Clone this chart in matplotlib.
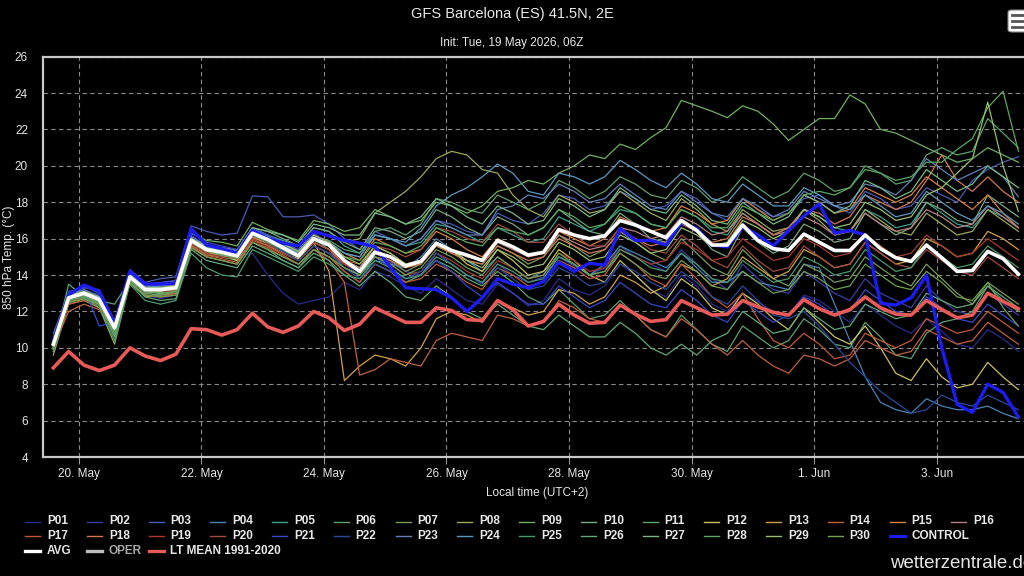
import numpy as np
import matplotlib
matplotlib.use("Agg")
from matplotlib import pyplot as plt
from matplotlib.lines import Line2D
from matplotlib.patches import FancyBboxPatch

plt.rcParams['font.family'] = ['Liberation Sans', 'DejaVu Sans']

# GFS ensemble, 850 hPa temperature, Barcelona. 6-hourly steps in local time (UTC+2),
# first step is 19 May 14:00 local (12Z)
START = np.datetime64("2026-05-19T14:00")
STEPS = 64
times = START + np.arange(STEPS) * np.timedelta64(6, "h")

avg = [10.2, 12.75, 13.0, 12.65, 11.1, 13.9, 13.2, 13.2, 13.3, 15.9, 15.4, 15.25, 15.05, 16.3, 15.95, 15.5,
       15.05, 16.0, 15.65, 14.8, 14.2, 15.25, 15.0, 14.5, 14.75, 15.75, 15.35, 15.1, 14.8, 15.9, 15.55, 15.1,
       15.25, 16.5, 16.2, 16.0, 16.15, 17.0, 16.75, 16.4, 16.05, 17.0, 16.45, 15.65, 15.65, 16.75, 15.9, 15.45,
       15.35, 16.25, 15.8, 15.35, 15.35, 16.2, 15.45, 14.95, 14.75, 15.65, 14.95, 14.2, 14.25, 15.3, 14.9, 14.05]

control = [10.3, 12.9, 13.45, 13.1, 11.3, 14.2, 13.5, 13.5, 13.55, 16.55, 15.65, 15.45, 15.2, 16.45, 16.0, 15.75,
           15.6, 16.4, 16.15, 15.9, 15.75, 15.55, 14.45, 13.3, 13.25, 13.2, 12.75, 12.0, 12.75, 13.8, 13.5, 13.3,
           13.65, 14.7, 14.2, 14.65, 14.55, 16.55, 15.9, 15.9, 15.65, 16.9, 16.55, 15.65, 15.55, 16.65, 16.2, 15.6,
           16.45, 17.25, 17.9, 16.3, 16.45, 16.2, 12.45, 12.35, 12.75, 14.0, 10.0, 6.9, 6.45, 8.0, 7.55, 6.2]

lt_mean = [8.9, 9.8, 9.05, 8.75, 9.05, 10.0, 9.55, 9.3, 9.65, 11.05, 11.0, 10.7, 11.0, 11.9, 11.15, 10.85,
           11.2, 12.0, 11.65, 10.95, 11.3, 12.2, 11.8, 11.4, 11.4, 12.2, 12.05, 11.55, 11.5, 12.6, 12.1, 11.2,
           11.45, 12.4, 11.8, 11.35, 11.4, 12.35, 11.85, 11.45, 11.55, 12.6, 12.2, 11.8, 11.85, 12.6, 12.25, 11.95,
           11.8, 12.65, 12.15, 11.8, 12.1, 12.8, 12.2, 11.85, 11.8, 12.6, 12.1, 11.65, 11.8, 13.0, 12.55, 12.15]

p01 = [10.5, 12.6, 12.7, 12.2, 10.6, 13.6, 12.9, 12.7, 12.9, 15.6, 15.4, 15.1, 15.0, 15.2, 14.0, 13.0,
       12.4, 12.6, 12.8, 13.6, 13.2, 14.2, 13.9, 13.4, 13.0, 13.8, 13.2, 12.6, 12.4, 13.5, 13.0, 12.3,
       12.6, 13.8, 13.2, 12.9, 13.4, 14.6, 14.0, 13.2, 12.8, 14.0, 13.4, 12.4, 12.0, 13.0, 12.5, 12.0,
       11.8, 12.9, 12.6, 12.0, 11.4, 12.4, 11.8, 11.2, 10.8, 11.6, 10.9, 10.2, 10.0, 11.0, 10.5, 9.8]
p02 = [10.0, 12.9, 13.2, 12.9, 10.9, 14.0, 13.0, 13.2, 13.5, 16.2, 15.6, 15.3, 15.2, 16.4, 15.9, 15.6,
       15.3, 16.3, 15.8, 14.6, 14.0, 15.0, 14.7, 14.2, 14.0, 15.2, 14.6, 14.0, 13.5, 14.6, 14.0, 13.6,
       13.9, 15.0, 14.5, 14.0, 14.4, 15.6, 15.0, 14.6, 14.2, 15.4, 14.6, 13.8, 13.2, 14.6, 13.8, 13.2,
       13.0, 14.2, 13.6, 13.0, 12.6, 13.8, 13.0, 12.6, 12.2, 13.4, 12.6, 12.0, 11.8, 13.0, 12.4, 11.8]
p03 = [10.8, 13.0, 13.3, 13.2, 11.5, 14.3, 13.6, 13.8, 13.9, 16.7, 16.4, 16.2, 16.3, 18.35, 18.3, 17.2,
       17.2, 17.3, 16.8, 16.0, 15.4, 16.4, 16.0, 15.6, 16.0, 17.0, 16.8, 16.4, 16.2, 17.4, 17.0, 16.8,
       17.4, 18.4, 18.2, 17.6, 17.8, 18.6, 18.2, 17.6, 17.8, 18.6, 18.2, 17.4, 17.0, 18.2, 17.6, 17.2,
       17.4, 18.2, 18.4, 17.8, 17.4, 18.6, 18.2, 17.6, 17.8, 18.8, 18.4, 18.0, 19.2, 19.8, 20.2, 20.5]
p04 = [10.4, 12.8, 13.4, 13.0, 10.9, 14.1, 13.4, 13.0, 13.2, 16.0, 15.5, 15.2, 15.0, 16.5, 16.2, 15.8,
       15.2, 16.0, 15.4, 14.4, 14.0, 14.8, 14.6, 14.4, 15.0, 16.0, 15.4, 14.8, 14.2, 15.0, 14.4, 13.8,
       14.2, 15.0, 14.6, 14.0, 14.6, 15.6, 15.2, 14.8, 14.4, 15.2, 14.4, 13.6, 13.6, 14.2, 13.6, 13.4,
       13.2, 14.6, 14.4, 12.4, 10.4, 8.4, 7.0, 6.6, 6.4, 7.2, 6.8, 6.6, 6.6, 6.8, 6.4, 6.1]
p05 = [10.0, 12.7, 12.9, 12.5, 10.8, 13.8, 13.3, 13.4, 13.6, 16.1, 15.6, 15.5, 15.3, 16.6, 16.2, 15.9,
       15.6, 16.6, 16.4, 15.6, 15.2, 16.2, 16.0, 15.6, 15.8, 16.8, 16.6, 16.2, 15.8, 16.6, 16.2, 15.8,
       16.0, 17.2, 16.8, 16.4, 16.8, 17.6, 17.4, 16.8, 16.6, 17.6, 17.2, 16.4, 16.2, 17.4, 16.8, 16.2,
       16.6, 17.6, 17.2, 16.6, 16.4, 17.6, 17.2, 16.6, 16.8, 18.0, 17.4, 16.8, 16.6, 17.6, 17.2, 16.6]
p06 = [9.8, 12.5, 12.8, 12.6, 11.0, 13.7, 13.1, 13.0, 13.1, 15.8, 15.2, 15.0, 14.8, 16.0, 15.8, 15.3,
       15.0, 16.1, 15.9, 15.4, 15.2, 16.4, 16.6, 16.2, 16.8, 18.2, 18.0, 17.6, 17.4, 18.4, 18.0, 17.6,
       18.0, 19.2, 18.8, 18.2, 18.6, 19.4, 19.0, 18.4, 18.2, 19.2, 18.8, 18.0, 18.4, 19.4, 18.8, 18.2,
       18.6, 19.6, 19.2, 18.6, 18.8, 20.0, 19.6, 19.0, 19.2, 20.6, 21.0, 20.6, 20.8, 22.6, 21.8, 21.0]
p07 = [10.1, 12.6, 12.9, 12.4, 11.2, 13.9, 13.0, 12.9, 13.0, 15.6, 15.1, 15.0, 14.9, 16.0, 15.6, 15.2,
       14.8, 15.6, 15.2, 14.4, 14.0, 15.0, 14.8, 14.2, 14.6, 15.6, 15.2, 14.8, 14.6, 15.6, 15.2, 14.6,
       15.0, 16.2, 15.6, 15.0, 15.4, 16.4, 15.8, 15.2, 14.8, 16.0, 15.2, 14.4, 14.0, 15.4, 14.6, 13.8,
       13.4, 14.6, 14.2, 13.6, 13.8, 15.0, 14.4, 13.8, 13.4, 14.6, 13.8, 13.0, 12.4, 13.6, 13.0, 12.4]
p08 = [9.6, 12.4, 12.6, 12.2, 10.2, 13.6, 12.8, 12.9, 13.1, 15.7, 15.3, 15.1, 15.0, 16.3, 16.0, 15.7,
       15.4, 16.4, 16.2, 15.8, 16.0, 17.4, 18.0, 18.6, 19.4, 20.4, 20.8, 20.6, 19.8, 19.6, 18.4, 17.6,
       17.2, 18.4, 18.0, 17.4, 17.6, 18.6, 18.0, 17.4, 17.0, 18.2, 17.6, 16.8, 16.4, 17.6, 17.0, 16.4,
       16.6, 17.6, 17.0, 16.2, 16.4, 17.6, 17.0, 16.4, 16.2, 17.4, 16.8, 16.2, 16.4, 17.6, 17.0, 16.4]
p09 = [10.2, 12.8, 13.1, 12.8, 11.3, 14.0, 13.4, 13.5, 13.7, 16.3, 15.9, 15.8, 15.6, 16.9, 16.5, 16.2,
       15.9, 17.0, 16.8, 16.4, 16.6, 17.6, 17.2, 16.8, 17.0, 18.0, 17.8, 17.4, 17.8, 18.6, 18.8, 19.2,
       19.0, 19.6, 20.0, 20.6, 20.4, 21.2, 20.9, 21.55, 22.1, 23.6, 23.3, 23.0, 22.65, 23.3, 23.0, 22.3,
       21.4, 22.0, 22.6, 22.6, 23.9, 23.4, 22.0, 21.8, 21.4, 21.0, 20.6, 20.2, 20.4, 21.0, 20.6, 20.2]
p10 = [10.3, 12.9, 13.0, 12.7, 11.2, 14.1, 13.3, 13.4, 13.5, 16.0, 15.6, 15.5, 15.4, 16.6, 16.4, 16.0,
       15.6, 16.6, 16.4, 15.8, 15.4, 16.6, 16.4, 16.0, 16.4, 17.6, 17.2, 16.6, 16.2, 17.2, 16.8, 16.2,
       16.6, 17.6, 17.0, 16.4, 16.2, 17.4, 16.8, 16.0, 15.8, 17.0, 16.4, 15.4, 15.0, 16.6, 15.8, 15.2,
       15.6, 16.8, 16.4, 15.8, 16.0, 17.4, 16.8, 16.2, 16.6, 18.0, 17.6, 17.0, 16.8, 18.4, 17.8, 17.2]
p11 = [10.0, 12.6, 12.8, 12.6, 12.4, 13.7, 13.0, 12.9, 13.0, 15.6, 15.0, 14.8, 14.6, 15.8, 15.4, 14.8,
       14.4, 15.4, 15.0, 14.2, 13.6, 14.6, 14.2, 13.6, 14.0, 14.8, 14.4, 13.8, 13.4, 14.2, 13.6, 12.8,
       12.4, 13.2, 12.4, 11.6, 11.8, 12.6, 11.8, 11.0, 10.6, 11.8, 11.0, 10.2, 9.8, 11.2, 10.6, 10.0,
       10.4, 11.6, 11.0, 10.2, 10.0, 11.4, 10.6, 9.6, 9.4, 10.8, 11.4, 11.6, 12.0, 13.4, 12.6, 12.0]
p12 = [10.4, 12.7, 12.9, 12.5, 11.0, 13.8, 13.1, 13.0, 13.2, 15.7, 15.2, 15.1, 14.8, 16.1, 15.7, 15.2,
       14.9, 15.8, 15.4, 14.8, 14.4, 15.6, 15.2, 14.6, 14.8, 15.8, 15.4, 14.6, 14.2, 15.4, 14.8, 14.0,
       14.2, 15.4, 14.8, 14.0, 13.6, 14.8, 14.0, 13.2, 12.6, 13.8, 13.2, 12.2, 11.8, 13.0, 12.4, 11.6,
       11.0, 12.2, 11.4, 10.6, 10.2, 11.2, 10.0, 8.6, 8.2, 9.4, 8.4, 7.8, 8.0, 9.2, 8.4, 7.7]
p13 = [10.1, 12.5, 12.7, 12.4, 11.1, 13.7, 13.2, 13.3, 13.5, 16.0, 15.5, 15.3, 15.2, 16.4, 16.0, 15.4,
       15.0, 15.8, 14.2, 8.2, 9.0, 9.6, 9.4, 9.0, 10.0, 11.6, 12.0, 11.8, 11.4, 12.6, 12.2, 11.8,
       12.0, 13.2, 13.0, 12.4, 12.8, 14.0, 13.6, 13.0, 13.4, 14.6, 14.2, 13.4, 13.8, 15.0, 14.4, 13.8,
       14.2, 15.4, 15.0, 14.4, 14.6, 15.8, 15.2, 14.6, 14.8, 16.0, 15.6, 15.0, 15.2, 16.4, 16.0, 15.4]
p14 = [10.0, 12.0, 12.4, 12.1, 11.0, 13.5, 12.9, 12.8, 13.0, 15.5, 15.0, 14.8, 14.6, 15.8, 15.5, 15.0,
       14.6, 15.4, 14.8, 13.6, 8.5, 8.8, 9.4, 9.2, 9.0, 10.4, 10.8, 10.6, 10.4, 11.8, 11.6, 11.2,
       11.4, 12.6, 12.2, 11.6, 11.4, 12.4, 11.8, 11.0, 10.6, 11.6, 11.0, 10.2, 9.6, 10.4, 9.6, 9.0,
       8.6, 9.6, 9.4, 9.0, 9.4, 10.4, 10.0, 9.6, 9.8, 11.0, 10.6, 10.2, 10.4, 11.4, 10.8, 10.2]
p15 = [10.2, 12.7, 13.0, 12.7, 11.3, 14.0, 13.4, 13.3, 13.4, 16.0, 15.5, 15.4, 15.2, 16.4, 16.0, 15.6,
       15.2, 16.2, 15.8, 15.2, 14.8, 16.0, 15.6, 15.2, 15.4, 16.4, 16.0, 15.4, 15.0, 16.0, 15.6, 15.0,
       15.2, 16.4, 16.0, 15.6, 16.0, 17.2, 16.8, 16.4, 16.6, 17.8, 17.4, 16.8, 17.0, 18.2, 17.6, 17.0,
       17.4, 18.4, 18.0, 17.4, 17.6, 18.8, 18.4, 18.0, 18.4, 19.4, 18.8, 18.2, 17.6, 18.4, 17.4, 16.6]
p16 = [10.3, 12.8, 13.1, 12.8, 11.2, 14.0, 13.3, 13.3, 13.3, 15.9, 15.4, 15.3, 15.1, 16.3, 15.9, 15.5,
       15.1, 16.0, 15.6, 14.8, 14.4, 15.4, 15.0, 14.6, 14.8, 15.8, 15.4, 15.0, 14.8, 15.8, 15.4, 15.0,
       15.2, 16.2, 15.8, 15.4, 15.6, 16.6, 16.4, 16.0, 16.2, 17.2, 16.8, 16.2, 16.4, 17.4, 16.8, 16.2,
       16.4, 17.2, 16.8, 16.2, 16.4, 17.4, 16.8, 16.4, 16.6, 17.6, 17.2, 16.6, 16.8, 17.8, 17.2, 16.6]
p17 = [9.9, 12.4, 12.6, 12.3, 11.0, 13.6, 12.9, 12.8, 12.9, 15.6, 15.1, 14.9, 14.7, 15.9, 15.6, 15.1,
       14.6, 15.4, 15.0, 14.2, 13.6, 14.6, 14.2, 13.6, 13.8, 14.6, 14.2, 13.6, 13.2, 14.4, 14.0, 13.4,
       13.6, 14.8, 14.4, 13.8, 14.0, 15.2, 14.6, 13.8, 13.4, 14.6, 13.8, 12.8, 12.2, 13.0, 11.6, 10.4,
       10.0, 10.8, 10.2, 9.4, 9.6, 10.8, 10.4, 10.0, 10.4, 11.6, 11.2, 10.8, 11.0, 12.0, 11.4, 10.8]
p18 = [10.1, 12.6, 12.9, 12.5, 11.1, 13.8, 13.1, 13.1, 13.2, 15.8, 15.3, 15.1, 14.9, 16.1, 15.8, 15.4,
       15.0, 15.8, 15.4, 14.6, 14.2, 15.2, 14.8, 14.4, 14.6, 15.6, 15.2, 14.8, 14.6, 15.6, 15.2, 14.8,
       15.0, 16.0, 15.6, 15.2, 15.4, 16.4, 16.0, 15.6, 15.8, 16.8, 16.4, 15.8, 16.0, 17.2, 16.8, 16.2,
       16.6, 17.6, 17.4, 16.8, 17.2, 18.4, 18.0, 17.6, 18.0, 19.2, 20.6, 19.2, 18.6, 19.4, 18.6, 18.0]
p19 = [10.0, 12.5, 12.8, 12.6, 11.2, 13.7, 13.2, 13.1, 13.1, 15.7, 15.2, 15.0, 14.9, 16.0, 15.7, 15.2,
       14.8, 15.6, 15.2, 14.6, 14.2, 15.0, 14.6, 14.0, 14.2, 15.2, 14.8, 14.2, 13.8, 14.8, 14.4, 13.8,
       14.0, 15.2, 14.8, 14.2, 14.4, 15.4, 15.0, 14.6, 14.8, 15.8, 15.4, 14.8, 15.0, 16.0, 15.4, 14.8,
       15.0, 16.0, 15.6, 15.0, 15.2, 16.2, 15.6, 15.0, 15.2, 16.2, 15.6, 15.0, 15.2, 16.0, 15.4, 14.8]
p20 = [10.2, 12.7, 12.9, 12.6, 11.1, 13.9, 13.2, 13.2, 13.2, 15.8, 15.3, 15.2, 15.0, 16.2, 15.8, 15.4,
       15.0, 15.8, 15.4, 14.8, 14.6, 15.6, 15.4, 15.0, 15.4, 16.6, 16.4, 16.0, 15.8, 16.8, 16.4, 15.8,
       15.8, 16.8, 16.2, 15.6, 15.6, 16.6, 16.0, 15.4, 15.2, 16.2, 15.6, 14.8, 14.4, 15.6, 14.8, 14.2,
       14.4, 15.6, 15.0, 14.4, 14.6, 15.8, 15.2, 14.6, 14.4, 15.4, 14.8, 14.2, 14.0, 15.0, 14.4, 13.8]
p21 = [10.6, 13.1, 13.3, 11.2, 11.4, 14.2, 13.5, 13.6, 13.7, 16.3, 15.8, 15.6, 15.4, 16.6, 16.2, 15.8,
       15.4, 16.2, 15.6, 14.8, 14.2, 15.0, 14.4, 13.8, 14.0, 14.8, 14.2, 13.4, 12.8, 13.6, 13.0, 12.4,
       12.4, 13.4, 12.8, 12.2, 12.6, 13.6, 13.0, 12.4, 12.2, 13.2, 12.6, 11.8, 11.4, 12.6, 12.0, 11.4,
       11.8, 12.8, 12.4, 11.8, 12.0, 13.2, 12.6, 12.0, 11.8, 12.8, 12.2, 11.6, 11.4, 12.4, 11.8, 11.2]
p22 = [10.3, 12.8, 13.1, 12.9, 11.0, 14.0, 13.3, 13.2, 13.3, 15.9, 15.4, 15.2, 15.0, 16.2, 15.8, 15.3,
       14.8, 15.6, 15.2, 14.4, 13.8, 14.6, 14.2, 13.8, 14.2, 15.2, 14.6, 14.0, 13.6, 14.4, 13.8, 13.2,
       13.4, 14.4, 14.0, 13.4, 13.6, 14.6, 14.2, 13.6, 13.2, 14.2, 13.6, 12.8, 12.4, 13.4, 12.6, 11.8,
       11.6, 12.0, 11.2, 10.2, 9.2, 8.4, 7.6, 7.0, 6.4, 6.6, 7.4, 7.0, 6.8, 7.4, 7.0, 6.6]
p23 = [10.4, 12.9, 13.2, 12.8, 11.2, 14.1, 13.4, 13.3, 13.4, 16.1, 15.6, 15.4, 15.3, 16.5, 16.1, 15.7,
       15.3, 16.2, 15.8, 15.2, 15.0, 16.2, 16.0, 15.6, 16.0, 17.0, 16.6, 16.2, 16.2, 17.6, 17.8, 18.4,
       18.2, 19.0, 18.6, 18.0, 18.2, 19.0, 18.4, 17.8, 17.6, 18.6, 18.0, 17.4, 17.2, 18.2, 17.8, 17.2,
       17.6, 18.6, 18.2, 17.8, 18.0, 19.0, 18.8, 18.4, 19.2, 20.4, 19.8, 19.2, 19.6, 20.0, 19.4, 18.3]
p24 = [10.2, 12.8, 13.0, 12.7, 11.0, 13.9, 13.3, 13.4, 13.5, 16.0, 15.5, 15.3, 15.2, 16.4, 16.0, 15.6,
       15.2, 16.0, 15.8, 15.2, 15.0, 16.2, 16.0, 15.8, 16.6, 17.8, 18.4, 18.8, 19.4, 20.1, 19.6, 18.6,
       18.4, 19.6, 19.4, 19.0, 19.4, 20.3, 19.8, 19.2, 18.8, 19.6, 19.0, 18.2, 18.0, 19.0, 18.4, 17.8,
       17.8, 18.8, 18.4, 17.8, 17.6, 18.4, 17.8, 17.2, 17.4, 18.6, 18.0, 17.4, 17.0, 17.8, 17.4, 16.8]
p25 = [9.8, 12.5, 12.7, 12.3, 10.4, 13.5, 12.6, 12.4, 12.6, 15.2, 14.4, 14.0, 13.9, 15.4, 15.0, 14.6,
       14.2, 15.0, 14.6, 14.0, 13.8, 14.8, 14.4, 13.8, 14.0, 15.0, 14.6, 14.0, 13.6, 14.6, 14.2, 13.6,
       13.8, 15.0, 14.6, 14.0, 14.2, 15.4, 15.0, 14.4, 14.2, 15.2, 14.6, 13.8, 13.6, 14.8, 14.2, 13.6,
       13.8, 15.0, 14.6, 14.0, 14.2, 15.4, 14.8, 14.2, 14.4, 15.6, 15.0, 14.4, 14.6, 15.6, 15.0, 14.4]
p26 = [10.0, 13.5, 12.8, 12.5, 10.6, 13.6, 12.8, 12.6, 12.7, 15.4, 14.8, 14.6, 14.4, 15.6, 15.2, 14.8,
       14.4, 15.2, 14.8, 14.0, 13.4, 14.2, 13.6, 12.8, 12.6, 13.4, 12.8, 12.0, 11.6, 12.4, 11.8, 11.2,
       11.0, 11.8, 11.2, 10.6, 10.6, 11.4, 10.8, 10.0, 9.6, 10.2, 9.6, 10.4, 10.8, 12.0, 11.4, 10.8,
       11.0, 12.2, 11.6, 11.0, 11.2, 12.4, 12.0, 11.6, 11.8, 13.0, 12.6, 12.2, 12.4, 13.4, 12.8, 12.2]
p27 = [10.2, 12.7, 12.9, 12.6, 11.0, 13.8, 13.2, 13.1, 13.3, 16.0, 15.5, 15.4, 15.3, 16.6, 16.4, 16.2,
       15.8, 16.8, 16.6, 16.2, 16.2, 17.4, 17.2, 16.8, 17.2, 18.2, 17.8, 17.2, 16.8, 17.8, 17.4, 16.8,
       17.0, 18.2, 17.8, 17.2, 17.6, 18.8, 18.2, 17.6, 17.4, 18.4, 17.8, 17.0, 16.8, 18.0, 17.4, 16.8,
       17.2, 18.4, 18.0, 17.4, 17.8, 19.2, 18.8, 18.2, 18.6, 19.8, 19.2, 18.6, 19.0, 20.0, 19.4, 18.8]
p28 = [10.1, 12.6, 12.8, 12.5, 10.9, 13.7, 13.1, 13.0, 13.1, 15.8, 15.3, 15.1, 14.9, 16.2, 15.8, 15.4,
       15.0, 15.9, 15.6, 15.0, 14.8, 15.8, 15.6, 15.2, 15.6, 16.6, 16.2, 15.8, 15.6, 16.6, 16.4, 16.2,
       16.6, 17.6, 17.2, 16.6, 16.8, 17.8, 17.4, 16.8, 16.6, 17.6, 17.2, 16.6, 16.6, 17.8, 17.4, 17.0,
       17.4, 18.4, 18.6, 18.4, 18.8, 19.8, 19.6, 19.2, 19.4, 20.2, 20.2, 20.9, 21.5, 23.2, 24.1, 20.8]
p29 = [10.3, 12.9, 13.1, 12.8, 11.2, 14.0, 13.3, 13.3, 13.4, 16.0, 15.6, 15.4, 15.2, 16.4, 16.1, 15.7,
       15.3, 16.2, 15.8, 15.0, 14.6, 15.6, 15.2, 14.6, 14.8, 15.8, 15.4, 14.8, 14.4, 15.4, 15.0, 14.4,
       14.6, 15.8, 15.4, 14.8, 15.0, 16.2, 15.8, 15.2, 15.4, 16.6, 16.2, 15.6, 15.8, 17.0, 16.6, 16.0,
       16.4, 17.6, 17.2, 16.6, 16.8, 18.0, 17.6, 17.0, 17.2, 18.4, 18.8, 19.6, 20.4, 23.5, 20.0, 17.5]
p30 = [9.9, 12.5, 12.7, 12.4, 10.7, 13.6, 12.9, 12.8, 12.9, 15.5, 15.0, 14.8, 14.6, 15.8, 15.4, 15.0,
       14.6, 15.4, 15.0, 14.4, 14.0, 15.0, 14.6, 14.0, 14.4, 15.4, 15.0, 14.4, 14.0, 15.0, 14.4, 13.8,
       14.0, 15.2, 14.6, 14.0, 14.2, 15.2, 14.6, 14.0, 13.8, 14.8, 14.2, 13.4, 13.2, 14.2, 13.6, 13.0,
       13.2, 14.2, 13.8, 13.2, 13.4, 14.6, 14.0, 13.4, 13.2, 14.2, 13.6, 12.8, 12.6, 13.6, 12.2, 11.2]

members = [p01, p02, p03, p04, p05, p06, p07, p08, p09, p10, p11, p12, p13, p14, p15,
           p16, p17, p18, p19, p20, p21, p22, p23, p24, p25, p26, p27, p28, p29, p30]
member_names = [f"P{i:02d}" for i in range(1, 31)]
member_colors = ['#2b2b8c', '#3c3ca4', '#4a5cb4', '#4a84b4', '#3f9f8f', '#5f9f6f', '#7a9a5a', '#9aa85a',
                 '#6fb060', '#7aa884', '#5fa070', '#c8c060', '#d0a048', '#c06040', '#d88040', '#b88080',
                 '#c05a3a', '#d07850', '#a83a30', '#a04a40', '#3848c8', '#2a4a98', '#6080b8', '#5c98c0',
                 '#4a9a70', '#60a878', '#78b888', '#58a860', '#98c070', '#70a050']

tick_dates = ["2026-05-20", "2026-05-22", "2026-05-24", "2026-05-26",
              "2026-05-28", "2026-05-30", "2026-06-01", "2026-06-03"]
tick_labels = ["20. May", "22. May", "24. May", "26. May", "28. May", "30. May", "1. Jun", "3. Jun"]
y_ticks = list(range(4, 27, 2))

for m in members:
    assert len(m) == STEPS

W, H = 1024, 576
fig = plt.figure(figsize=(W / 100, H / 100), dpi=100, facecolor='black')
ax = fig.add_axes([43.3 / W, 1 - 457 / H, (1032 - 43.3) / W, (457 - 56.7) / H])
ax.set_facecolor('black')

for vals, col in zip(members, member_colors):
    ax.plot(times, vals, color=col, lw=0.9, zorder=2)
ax.plot(times, control, color='#1c1cf0', lw=2.4, zorder=3)
ax.plot(times, lt_mean, color='#e85a58', lw=2.6, zorder=4)
ax.plot(times, avg, color='white', lw=2.6, zorder=5)

ax.set_xlim(START - np.timedelta64(235, "m"), START + np.timedelta64(23000, "m"))
ax.set_ylim(4, 26)
ax.set_yticks(y_ticks)
ax.set_xticks([np.datetime64(d + "T00:00") for d in tick_dates])
ax.set_xticklabels(tick_labels)

ax.grid(True, color='#8a8a8a', lw=0.8, linestyle=(0, (4, 3)))
ax.set_axisbelow(True)
for side in ['left', 'bottom', 'top', 'right']:
    ax.spines[side].set_color('#c8c8c8')
    ax.spines[side].set_linewidth(1.6)
ax.tick_params(axis='y', length=0, pad=11, labelcolor='#e6e6e6', labelsize=8.5)
ax.tick_params(axis='x', length=5, width=0.8, color='#9a9a9a', pad=3, labelcolor='#e6e6e6', labelsize=8.5)

ax.set_ylabel("850 hPa Temp. (°C)", color='#e6e6e6', fontsize=8.5)
ax.yaxis.set_label_coords(-28 / 988.7, 0.5)
ax.set_xlabel("Local time (UTC+2)", color='#e6e6e6', fontsize=8.5, labelpad=5)

fig.text(512 / W, 1 - 14 / H, "GFS Barcelona (ES) 41.5N, 2E", color='#e8e8e8', fontsize=10.5,
         ha='center', va='center')
fig.text(512 / W, 1 - 43 / H, "Init: Tue, 19 May 2026, 06Z", color='#e8e8e8', fontsize=8.5,
         ha='center', va='center')

# legend drawn by hand so the items sit on a fixed grid like the original
col_x = 47
col_step = 61.75
row_y = [521.5, 536, 550.5]


def legend_item(col, row, label, color, lw, text_color='#e8e8e8'):
    x = col_x + col * col_step
    y = 1 - row_y[row] / H
    fig.add_artist(Line2D([(x - 22) / W, (x - 7) / W], [y, y], color=color, lw=lw,
                          transform=fig.transFigure))
    fig.text(x / W, y, label, color=text_color, fontsize=8.5, fontweight='bold', ha='left', va='center')


for i, (name, col) in enumerate(zip(member_names, member_colors)):
    legend_item(i % 16 if i < 16 else i - 16, 0 if i < 16 else 1, name, col, 1.0)
legend_item(14, 1, "CONTROL", '#1c1cf0', 2.2)
legend_item(0, 2, "AVG", 'white', 2.4)
legend_item(1, 2, "OPER", '#bcbcbc', 2.4, text_color='#a8a8a8')
legend_item(2, 2, "LT MEAN 1991-2020", '#e85a58', 2.4)

# watermark runs off the right edge, as in the original
fig.text(890 / W, 1 - 564 / H, "wetterzentrale.de", color='#e6e6e6', fontsize=13.5,
         ha='left', va='center')

# menu button in the top right corner
fig.add_artist(FancyBboxPatch((1008 / W, 1 - 32 / H), 24 / W, 22 / H,
                              boxstyle="round,pad=0,rounding_size=0.004",
                              transform=fig.transFigure, facecolor='white', edgecolor='#888888', lw=0.8))
for yy in [15, 21, 27]:
    fig.add_artist(Line2D([1012 / W, 1024 / W], [1 - yy / H, 1 - yy / H], color='#555555', lw=2,
                          transform=fig.transFigure))

fig.savefig("out.png", dpi=100, facecolor='black')
